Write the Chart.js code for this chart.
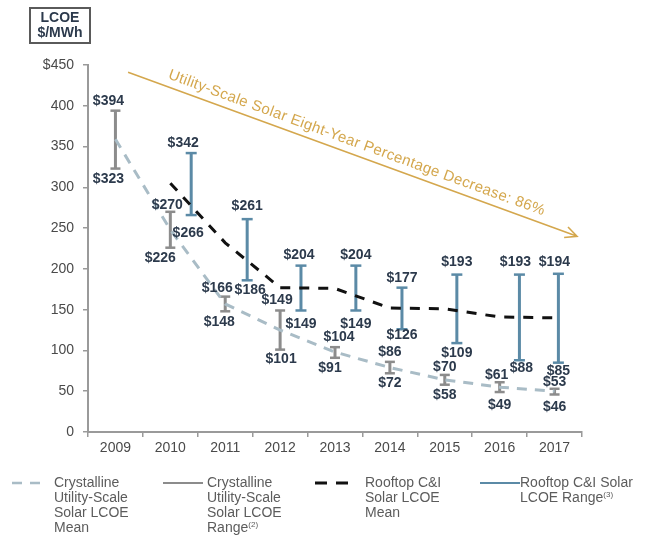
<!DOCTYPE html>
<html>
<head>
<meta charset="utf-8">
<title>LCOE of crystalline utility-scale and rooftop C&amp;I solar</title>
<script src="https://cdn.jsdelivr.net/npm/chart.js@4/dist/chart.umd.min.js"></script>
<style>
  html, body { margin: 0; padding: 0; background: #fff; }
  #wrap { position: relative; width: 654px; height: 541px; font-family: Arial, "Liberation Sans", sans-serif; }
  #chart { position: absolute; left: 0; top: 0; }
  .unit-box {
    position: absolute; left: 29px; top: 7px; width: 58px; height: 32px;
    border: 2px solid #5a5a5a; color: #2c3a4c; font-weight: bold;
    font-size: 14px; line-height: 15px; text-align: center; padding-top: 1px;
  }
  .leg { position: absolute; top: 475px; color: #5c5c5c; font-size: 14px; line-height: 15px; }
  .leg sup { font-size: 8px; vertical-align: 5px; line-height: 0; }
  .swatch { position: absolute; }
</style>
</head>
<body>
<div id="wrap">
  <canvas id="chart" width="654" height="541"></canvas>
  <div class="unit-box">LCOE<br>$/MWh</div>

  <svg class="swatch" style="left:10px;top:478px" width="34" height="10">
    <line x1="2" y1="5" x2="32" y2="5" stroke="#a9bcc6" stroke-width="2.5" stroke-dasharray="10,8"/>
  </svg>
  <div class="leg" style="left:54px">Crystalline<br>Utility-Scale<br>Solar LCOE<br>Mean</div>

  <svg class="swatch" style="left:161px;top:478px" width="44" height="10">
    <line x1="2" y1="5" x2="42" y2="5" stroke="#8c8c8c" stroke-width="2"/>
  </svg>
  <div class="leg" style="left:207px">Crystalline<br>Utility-Scale<br>Solar LCOE<br>Range<sup>(2)</sup></div>

  <svg class="swatch" style="left:313px;top:478px" width="42" height="10">
    <line x1="2" y1="5" x2="40" y2="5" stroke="#111" stroke-width="3" stroke-dasharray="12,9"/>
  </svg>
  <div class="leg" style="left:365px">Rooftop C&amp;I<br>Solar LCOE<br>Mean</div>

  <svg class="swatch" style="left:478px;top:478px" width="44" height="10">
    <line x1="2" y1="5" x2="42" y2="5" stroke="#5b8aa6" stroke-width="2"/>
  </svg>
  <div class="leg" style="left:520px">Rooftop C&amp;I Solar<br>LCOE Range<sup>(3)</sup></div>
</div>

<script>
// Years on the horizontal axis
const years = ['2009', '2010', '2011', '2012', '2013', '2014', '2015', '2016', '2017'];

// Crystalline utility-scale solar LCOE ($/MWh)
const utilityLow  = [323, 226, 148, 101, 91, 72, 58, 49, 46];
const utilityHigh = [394, 270, 166, 149, 104, 86, 70, 61, 53];
const utilityMean = [359, 248, 157, 125, 98, 79, 64, 55, 50];

// Rooftop C&I solar LCOE ($/MWh), first reported in 2010
const rooftopLow  = [null, 266, 186, 149, 149, 126, 109, 88, 85];
const rooftopHigh = [null, 342, 261, 204, 204, 177, 193, 193, 194];
const rooftopMean = [null, 305, 232, 177, 176, 152, 151, 141, 140];

// Y axis ticks
const yTicks = [0, 50, 100, 150, 200, 250, 300, 350, 400, 450];

// Headline annotation
const trendText = 'Utility-Scale Solar Eight-Year Percentage Decrease: 86%';

// ---- layout / styling (not data) ----
// Horizontal placement of the rooftop range bars inside each year slot (fraction of a slot)
const rooftopShift = [0, 0.38, 0.40, 0.38, 0.38, 0.22, 0.22, 0.36, 0.07];
// Small label nudges in px: hx/hy for the high label, lx/ly for the low label
const utilityNudge = [
  { hx: -7, lx: -7, ly: 1 }, { hx: -3, hy: 3, lx: -10 }, { hx: -8, hy: 2, lx: -6, ly: 1 },
  { hx: -3, lx: 1 }, { hx: 4, lx: -5 }, {}, { hy: 2 }, { hx: -3, hy: 3, ly: 3 }, { hy: 3, ly: 3 }
];
const rooftopNudge = [
  {}, { hx: -8, lx: -3, ly: 8 }, { hy: -3, lx: 3 }, { hx: -2, ly: 4 }, { ly: 4 },
  { ly: -4 }, { hy: -2 }, { hx: -4, hy: -2, lx: 2, ly: -2 }, { hx: -4, hy: -2, ly: -2 }
];

const GRAY = '#8c8c8c';
const BLUE = '#5b8aa6';
const LIGHT = '#a9bcc6';
const LABEL = '#2c3a4c';
const AXIS = '#9a9a9a';
const GOLD = '#d4a74d';

// Range series become vertical segments: low point, high point, gap
function rangePoints(low, high, shift) {
  const pts = [];
  low.forEach((lo, i) => {
    if (lo == null) return;
    const xv = i + (shift ? shift[i] : 0);
    pts.push({ x: xv, y: lo }, { x: xv, y: high[i] }, { x: xv, y: null });
  });
  return pts;
}
function meanPoints(mean) {
  return mean.map((v, i) => ({ x: i, y: v })).filter(p => p.y != null);
}

const rangeLabels = {
  id: 'rangeLabels',
  afterDatasetsDraw(chart) {
    const { ctx, scales: { x, y } } = chart;
    const series = [
      { low: utilityLow, high: utilityHigh, shift: null, nudge: utilityNudge },
      { low: rooftopLow, high: rooftopHigh, shift: rooftopShift, nudge: rooftopNudge }
    ];
    ctx.save();
    ctx.font = 'bold 14px Arial, "Liberation Sans", sans-serif';
    ctx.fillStyle = LABEL;
    ctx.textAlign = 'center';
    ctx.textBaseline = 'middle';
    series.forEach(s => {
      s.low.forEach((lo, i) => {
        if (lo == null) return;
        const hi = s.high[i];
        const n = s.nudge[i] || {};
        const px = x.getPixelForValue(i + (s.shift ? s.shift[i] : 0));
        ctx.fillText('$' + hi, px + (n.hx || 0), y.getPixelForValue(hi) - 10 + (n.hy || 0));
        ctx.fillText('$' + lo, px + (n.lx || 0), y.getPixelForValue(lo) + 10 + (n.ly || 0));
      });
    });
    ctx.restore();
  }
};

const trendArrow = {
  id: 'trendArrow',
  afterDatasetsDraw(chart) {
    const { ctx, scales: { x, y } } = chart;
    const x0 = x.getPixelForValue(0.23), y0 = y.getPixelForValue(441);
    const x1 = x.getPixelForValue(8.41), y1 = y.getPixelForValue(240);
    const ang = Math.atan2(y1 - y0, x1 - x0);
    ctx.save();
    ctx.strokeStyle = GOLD;
    ctx.lineWidth = 1.6;
    ctx.beginPath();
    ctx.moveTo(x0, y0);
    ctx.lineTo(x1, y1);
    const head = 13, spread = 0.45;
    ctx.moveTo(x1 - head * Math.cos(ang - spread), y1 - head * Math.sin(ang - spread));
    ctx.lineTo(x1, y1);
    ctx.lineTo(x1 - head * Math.cos(ang + spread), y1 - head * Math.sin(ang + spread));
    ctx.stroke();

    const mx = (x0 + x1) / 2, my = (y0 + y1) / 2;
    ctx.translate(mx, my);
    ctx.rotate(ang);
    ctx.font = '15px Arial, "Liberation Sans", sans-serif';
    const target = 400;
    const w = ctx.measureText(trendText).width;
    if ('letterSpacing' in ctx && w < target) {
      ctx.letterSpacing = ((target - w) / trendText.length).toFixed(2) + 'px';
    }
    ctx.fillStyle = GOLD;
    ctx.textAlign = 'center';
    ctx.textBaseline = 'middle';
    ctx.fillText(trendText, 0, -12);
    ctx.restore();
  }
};

new Chart(document.getElementById('chart'), {
  type: 'line',
  data: {
    datasets: [
      {
        label: 'Crystalline Utility-Scale Solar LCOE Mean',
        data: meanPoints(utilityMean),
        borderColor: LIGHT, borderWidth: 3, borderDash: [10, 8],
        pointRadius: 0, tension: 0, order: 1
      },
      {
        label: 'Rooftop C&I Solar LCOE Mean',
        data: meanPoints(rooftopMean),
        borderColor: '#111', borderWidth: 3, borderDash: [10, 9],
        pointRadius: 0, tension: 0, order: 0
      },
      {
        label: 'Crystalline Utility-Scale Solar LCOE Range',
        data: rangePoints(utilityLow, utilityHigh, null),
        borderColor: GRAY, borderWidth: 3, spanGaps: false,
        pointStyle: 'line', pointRadius: 5, pointHoverRadius: 5,
        pointBorderColor: GRAY, pointBorderWidth: 2.5, order: 2
      },
      {
        label: 'Rooftop C&I Solar LCOE Range',
        data: rangePoints(rooftopLow, rooftopHigh, rooftopShift),
        borderColor: BLUE, borderWidth: 3, spanGaps: false,
        pointStyle: 'line', pointRadius: 5.5, pointHoverRadius: 5.5,
        pointBorderColor: BLUE, pointBorderWidth: 2.5, order: 3
      }
    ]
  },
  options: {
    responsive: false,
    animation: false,
    events: [],
    layout: { padding: { top: 65, right: 72, left: 0, bottom: 0 } },
    plugins: { legend: { display: false }, tooltip: { enabled: false } },
    scales: {
      x: {
        type: 'linear',
        min: -0.5, max: 8.5,
        afterBuildTicks: (scale) => { scale.ticks = years.map((_, i) => ({ value: i })); },
        afterFit: (scale) => { scale.height = 109; },
        ticks: {
          autoSkip: false, maxRotation: 0, padding: 3,
          color: '#4a4a4a', font: { family: 'Arial, "Liberation Sans", sans-serif', size: 14 },
          callback: (v) => years[v]
        },
        grid: { offset: true, drawOnChartArea: false, drawTicks: true, tickLength: 5, color: AXIS, lineWidth: 1.5 },
        border: { display: true, color: AXIS, width: 2 }
      },
      y: {
        min: 0, max: 450,
        afterBuildTicks: (scale) => { scale.ticks = yTicks.map(v => ({ value: v })); },
        afterFit: (scale) => { scale.width = 88; },
        ticks: {
          padding: 9,
          color: '#4a4a4a', font: { family: 'Arial, "Liberation Sans", sans-serif', size: 14 },
          callback: (v) => (v === 450 ? '$450' : String(v))
        },
        grid: { drawOnChartArea: false, drawTicks: true, tickLength: 5, color: AXIS, lineWidth: 1.5 },
        border: { display: true, color: AXIS, width: 2 }
      }
    }
  },
  plugins: [rangeLabels, trendArrow]
});
</script>
</body>
</html>
